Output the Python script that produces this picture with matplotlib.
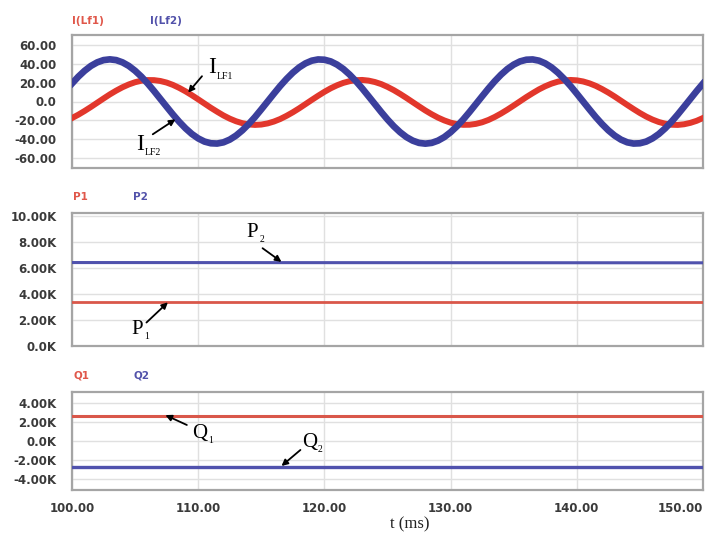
import matplotlib
matplotlib.use("Agg")
import matplotlib.pyplot as plt

# ---- data -------------------------------------------------------------
# inductor currents sampled every 0.5 ms from 100 ms to 150 ms
t_ms = [100 + 0.5 * k for k in range(101)]

i_lf1 = [-17.7, -14.1, -10.1, -5.8, -1.3, 3.2, 7.6, 11.6, 15.2, 18.2,
         20.6, 22.2, 22.9, 22.8, 21.9, 20.2, 17.7, 14.5, 10.8, 6.7,
         2.3, -2.2, -6.7, -10.9, -14.9, -18.3, -21.1, -23.2, -24.5, -25.0,
         -24.6, -23.4, -21.4, -18.7, -15.3, -11.5, -7.3, -2.8, 1.7, 6.1,
         10.3, 14.1, 17.3, 19.9, 21.7, 22.8, 23.0, 22.3, 20.8, 18.6,
         15.6, 12.1, 8.1, 3.8, -0.7, -5.2, -9.6, -13.6, -17.2, -20.2,
         -22.6, -24.2, -24.9, -24.8, -23.9, -22.2, -19.7, -16.5, -12.8, -8.7,
         -4.3, 0.2, 4.7, 8.9, 12.9, 16.3, 19.1, 21.2, 22.5, 23.0,
         22.6, 21.4, 19.4, 16.7, 13.3, 9.5, 5.3, 0.8, -3.7, -8.1,
         -12.3, -16.1, -19.3, -21.9, -23.7, -24.8, -25.0, -24.3, -22.8, -20.6,
         -17.6]

i_lf2 = [19.2, 26.5, 32.8, 38.0, 41.8, 44.2, 45.0, 44.2, 41.8, 38.0,
         32.8, 26.5, 19.2, 11.2, 2.8, -5.6, -13.9, -21.7, -28.7, -34.7,
         -39.4, -42.8, -44.6, -44.9, -43.6, -40.7, -36.4, -30.8, -24.1, -16.6,
         -8.4, 0.0, 8.4, 16.6, 24.1, 30.8, 36.4, 40.7, 43.6, 44.9,
         44.6, 42.8, 39.4, 34.7, 28.7, 21.7, 13.9, 5.6, -2.8, -11.2,
         -19.2, -26.5, -32.8, -38.0, -41.8, -44.2, -45.0, -44.2, -41.8, -38.0,
         -32.8, -26.5, -19.2, -11.2, -2.8, 5.6, 13.9, 21.7, 28.7, 34.7,
         39.4, 42.8, 44.6, 44.9, 43.6, 40.7, 36.4, 30.8, 24.1, 16.6,
         8.4, 0.0, -8.4, -16.6, -24.1, -30.8, -36.4, -40.7, -43.6, -44.9,
         -44.6, -42.8, -39.4, -34.7, -28.7, -21.7, -13.9, -5.6, 2.8, 11.2,
         19.2]

t_flat = [100, 150]
p1 = [3350, 3350]
p2 = [6400, 6380]
q1 = [2650, 2650]
q2 = [-2750, -2750]

x_ticks = [100, 110, 120, 130, 140, 150]
x_labels = ["100.00", "110.00", "120.00", "130.00", "140.00", "150.00"]

i_ticks = [60, 40, 20, 0, -20, -40, -60]
i_labels = ["60.00", "40.00", "20.00", "0.0", "-20.00", "-40.00", "-60.00"]

p_ticks = [10000, 8000, 6000, 4000, 2000, 0]
p_labels = ["10.00K", "8.00K", "6.00K", "4.00K", "2.00K", "0.0K"]

q_ticks = [4000, 2000, 0, -2000, -4000]
q_labels = ["4.00K", "2.00K", "0.0K", "-2.00K", "-4.00K"]

# ---- style ------------------------------------------------------------
RED = "#e2372c"
BLUE = "#3b3f9c"
RED_THIN = "#d9574a"
BLUE_THIN = "#5052ad"
RED_TXT = "#e0574a"
BLUE_TXT = "#5252aa"
TICK_COL = "#3a3a3a"
GRID_COL = "#e0e0e0"
FRAME_COL = "#a5a5a5"

W, H = 707, 536
fig = plt.figure(figsize=(W / 100, H / 100), dpi=100)


def px_axes(left, top, right, bottom):
    return fig.add_axes([left / W, 1 - bottom / H, (right - left) / W,
                         (bottom - top) / H])


ax1 = px_axes(72, 35, 703, 168)
ax2 = px_axes(72, 213, 703, 346)
ax3 = px_axes(72, 392, 703, 490)


def style(ax, yt, yl, ylim, show_x):
    ax.set_xlim(100, 150)
    ax.set_ylim(*ylim)
    ax.set_xticks(x_ticks)
    ax.set_xticklabels(x_labels if show_x else [])
    ax.set_yticks(yt)
    ax.set_yticklabels(yl)
    ax.tick_params(length=0, labelsize=8.5, colors=TICK_COL, pad=11)
    ax.tick_params(axis="x", pad=9)
    for lab in ax.get_xticklabels() + ax.get_yticklabels():
        lab.set_fontweight("bold")
    if show_x:
        ax.get_xticklabels()[-1].set_ha("right")
    ax.grid(True, color=GRID_COL, lw=1.0)
    ax.set_axisbelow(True)
    for s in ax.spines.values():
        s.set_color(FRAME_COL)
        s.set_linewidth(1.6)


style(ax1, i_ticks, i_labels, (-71, 71), False)
style(ax2, p_ticks, p_labels, (0, 10200), False)
style(ax3, q_ticks, q_labels, (-5200, 5200), True)

# currents
ax1.plot(t_ms, i_lf1, color=RED, lw=4.3, solid_joinstyle="round", zorder=3)
ax1.plot(t_ms, i_lf2, color=BLUE, lw=4.8, solid_joinstyle="round", zorder=4)

# active power
ax2.plot(t_flat, p1, color=RED_THIN, lw=2.0, zorder=3)
ax2.plot(t_flat, p2, color=BLUE_THIN, lw=2.2, zorder=3)

# reactive power
ax3.plot(t_flat, q1, color=RED_THIN, lw=2.2, zorder=3)
ax3.plot(t_flat, q2, color=BLUE_THIN, lw=2.4, zorder=3)


# series names above each panel
def fig_label(x, y, s, c):
    fig.text(x / W, 1 - y / H, s, color=c, fontsize=7.5, fontweight="bold",
             ha="left", va="center")


fig_label(72, 21, "I(Lf1)", RED_TXT)
fig_label(150, 21, "I(Lf2)", BLUE_TXT)
fig_label(73, 197, "P1", RED_TXT)
fig_label(133, 197, "P2", BLUE_TXT)
fig_label(73, 375, "Q1", RED_TXT)
fig_label(133, 375, "Q2", BLUE_TXT)

# callouts
ARROW = dict(arrowstyle="-|>", color="black", lw=1.3, mutation_scale=9,
             shrinkA=0, shrinkB=0)
SERIF = "Liberation Serif"


def callout(ax, letter, sub, text_xy, tail, head, size, sub_size, sub_off):
    ax.annotate("", xy=head, xytext=tail, arrowprops=ARROW, zorder=6)
    ax.text(*text_xy, letter, fontsize=size, family=SERIF, ha="center",
            va="center", zorder=6)
    ax.annotate(sub, xy=text_xy, xytext=sub_off, textcoords="offset points",
                fontsize=sub_size, family=SERIF, ha="left", va="center",
                zorder=6)


callout(ax1, "I", "LF1", (111.1, 36), (110.3, 27), (109.2, 9.5),
        17, 7, (3, -6))
callout(ax1, "I", "LF2", (105.4, -46), (106.4, -35), (108.2, -19),
        17, 7, (3, -6))
callout(ax2, "P", "2", (114.3, 8700), (115.1, 7500), (116.6, 6450),
        15, 7, (5, -5))
callout(ax2, "P", "1", (105.2, 1250), (105.9, 1800), (107.6, 3350),
        15, 7, (5, -5))
callout(ax3, "Q", "1", (110.1, 800), (109.1, 1700), (107.4, 2750),
        15, 7, (6, -5))
callout(ax3, "Q", "2", (118.8, -150), (118.1, -950), (116.6, -2650),
        15, 7, (6, -5))

fig.text(410 / W, 1 - 524 / H, "t (ms)", family=SERIF, fontsize=12,
         ha="center", va="center", color="#222222")

fig.savefig("out.png", dpi=100)
